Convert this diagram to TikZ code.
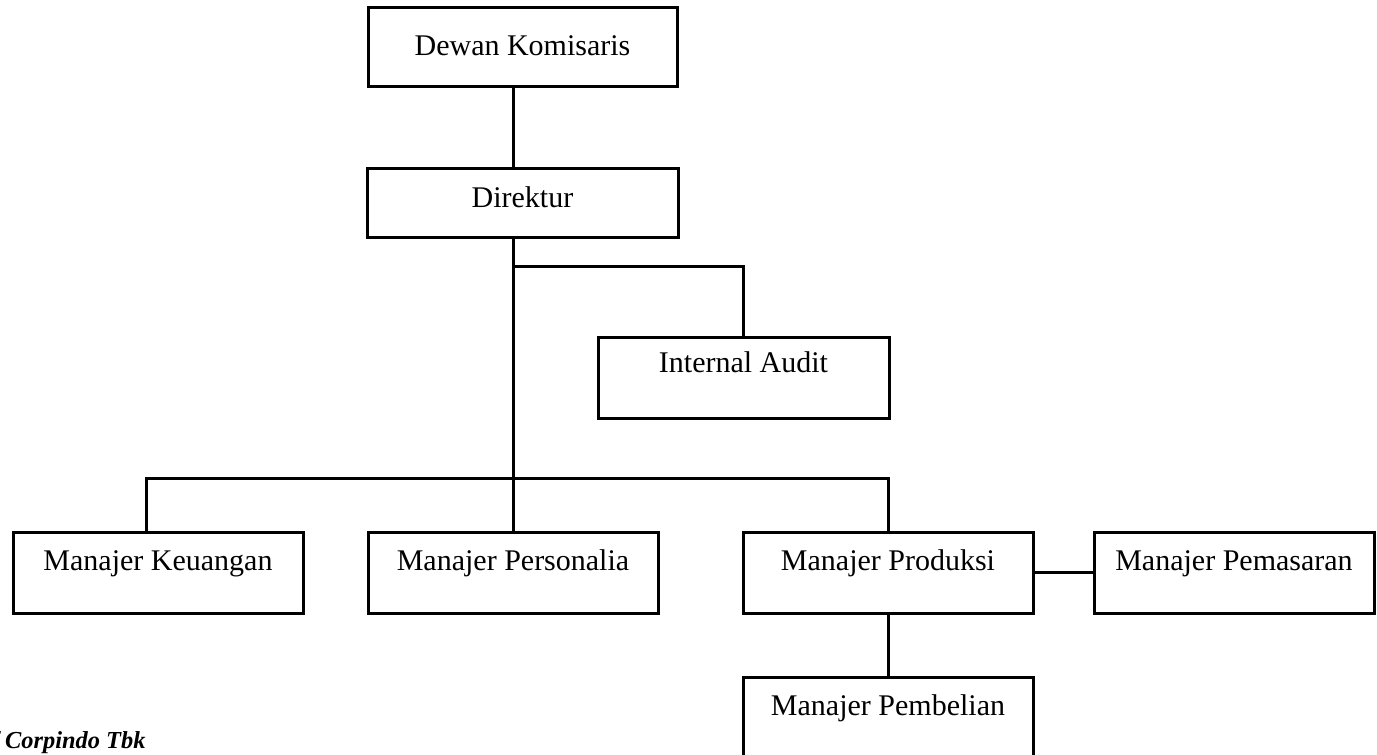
\documentclass[tikz,border=0pt]{standalone}
\usepackage{fontspec}
\setmainfont{Liberation Serif}
\usepackage{tikz}
\usetikzlibrary{positioning,calc}

\begin{document}
\begin{tikzpicture}[x=0.5pt,y=-0.5pt,line width=1.5pt,
	jabatan/.style={draw,rectangle,inner sep=0pt,minimum width=145pt,minimum height=40.5pt,
		text height=10pt,text depth=12.5pt,font=\fontsize{15}{18}\selectfont}]
	\useasboundingbox (0,0) rectangle (1377,755);
	% pimpinan
	\node[jabatan,minimum width=154.5pt,minimum height=39.5pt,text depth=1.5pt] (dewan) at (522.5,46.5) {Dewan Komisaris};
	\node[jabatan,minimum width=155.5pt,minimum height=34.5pt,text depth=5.5pt] (direktur) at (522.5,202.5) {Direktur};
	\node[jabatan,minimum width=145.5pt,text depth=15.5pt] (audit) at (743.5,377.5) {Internal Audit};
	% manajer
	\node[jabatan] (keu) at (158,572.5) {Manajer Keuangan};
	\node[jabatan] (pers) at (513,572.5) {Manajer Personalia};
	\node[jabatan] (prod) at (888,572.5) {Manajer Produksi};
	\node[jabatan,minimum width=140pt] (pem) at (1234,572.5) {Manajer Pemasaran};
	\node[jabatan] (pemb) at (888,717.5) {Manajer Pembelian};
	\coordinate (bus) at (513,478);
	% garis
	\draw (dewan.south -| pers.north) -- (direktur.north -| pers.north);
	\draw (direktur.south -| pers.north) -- (pers.north);
	\draw (direktur.south -| pers.north) ++(0,28) -| (audit.north);
	\draw ([xshift=-6pt]keu.north) |- (bus) -| (prod.north);
	\draw (prod.east) -- (prod.east -| pem.west);
	\draw (prod.south) -- (pemb.north);
	\node[font=\fontsize{12.2}{14}\selectfont\bfseries\itshape,anchor=base east,inner sep=0pt] (sumber) at (147,748) {f Corpindo Tbk};
\end{tikzpicture}
\end{document}
